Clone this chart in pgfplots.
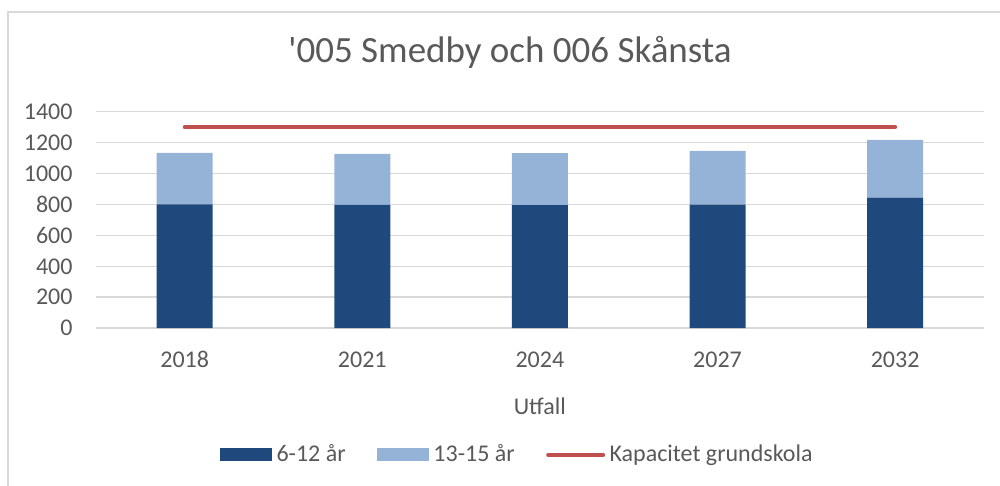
\documentclass[border=0pt]{standalone}
\usepackage{fontspec}
\setmainfont{Carlito}
\usepackage{pgfplots}
\pgfplotsset{compat=1.18}
\definecolor{darkblue}{HTML}{1F497D}
\definecolor{lightblue}{HTML}{95B3D7}
\definecolor{capred}{HTML}{C0504D}
\definecolor{txtgray}{HTML}{595959}
\definecolor{gridgray}{HTML}{D9D9D9}

\begin{document}
\begin{tikzpicture}[x=1pt,y=1pt]
\useasboundingbox (0,0) rectangle (500,243);
% chart frame (only top and left edges visible)
\draw[gridgray, line width=0.75pt] (4,-5) -- (4,237) -- (505,237);
\node[anchor=base, text=txtgray, font=\fontsize{18.5}{21}\selectfont, inner sep=0pt]
  at (255,211.5) {\textquotesingle005 Smedby och 006 Skånsta};

\begin{axis}[
  at={(54,102)}, anchor=south west,
  scale only axis, width=444pt, height=108.3pt,
  ymin=0, ymax=1400, ytick={0,200,...,1400},
  xmin=-0.5, xmax=4.5, xtick={0,...,4},
  xticklabels={2018,2021,2024,2027,2032},
  enlargelimits=false,
  ybar stacked, bar width=28pt,
  axis x line*=bottom, axis y line*=left,
  y axis line style={draw=none},
  x axis line style={gridgray, line width=0.75pt},
  major tick length=0pt,
  ymajorgrids, major grid style={gridgray, line width=0.75pt},
  /pgf/number format/assume math mode=true,
  /pgf/number format/1000 sep={},
  ticklabel style={font=\fontsize{12}{14}\selectfont, text=txtgray},
  yticklabel style={anchor=east, inner sep=0pt, xshift=-11.5pt},
  xticklabel style={anchor=north, inner sep=0pt, yshift=-11.5pt},
  xlabel={Utfall},
  xlabel style={at={(axis description cs:0.5,0)}, anchor=north, yshift=-34.7pt,
    inner sep=0pt, text=txtgray, font=\fontsize{12}{14}\selectfont},
  legend columns=3,
  legend cell align=left,
  legend style={at={(0.476,-0.585)}, anchor=center, draw=none, fill=none,
    font=\fontsize{12}{14}\selectfont, text=txtgray,
    nodes={inner sep=2.2pt},
    /tikz/every even column/.append style={column sep=13.5pt}},
]
\addplot[fill=darkblue, draw=none,
  legend image code/.code={\fill[darkblue] (0pt,-3.25pt) rectangle (26pt,3.25pt);}]
  coordinates {(0,801) (1,797) (2,795) (3,799) (4,844)};
\addlegendentry{6-12 år}
\addplot[fill=lightblue, draw=none,
  legend image code/.code={\fill[lightblue] (0pt,-3.25pt) rectangle (26pt,3.25pt);}]
  coordinates {(0,332) (1,330) (2,336) (3,347) (4,373)};
\addlegendentry{13-15 år}
\addplot[capred, line width=2pt, line cap=round, sharp plot, stack plots=false,
  legend image code/.code={\draw[capred, line width=2pt, line cap=round] (0pt,0pt) -- (27.5pt,0pt);}]
  coordinates {(0,1300) (4,1300)};
\addlegendentry{Kapacitet grundskola}
\draw[gridgray, line width=0.75pt] (rel axis cs:0,0) -- ++(0,-46.5pt);
\draw[gridgray, line width=0.75pt] (rel axis cs:1,0) -- ++(0,-46.5pt);
\end{axis}
\end{tikzpicture}
\end{document}
